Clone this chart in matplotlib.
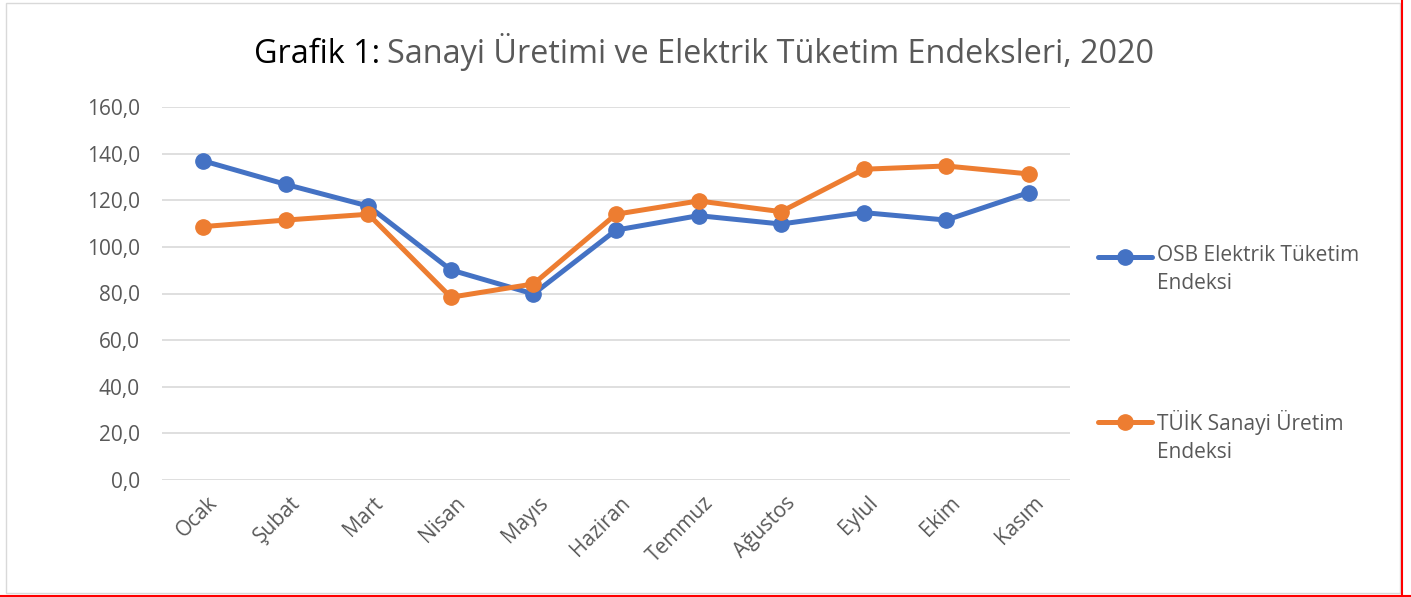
import matplotlib
matplotlib.use("Agg")
import matplotlib.pyplot as plt
import matplotlib.transforms as mtransforms
from matplotlib.patches import Rectangle
from matplotlib.lines import Line2D

plt.rcParams['font.family'] = ['Open Sans', 'DejaVu Sans']

aylar = ['Ocak', 'Şubat', 'Mart', 'Nisan', 'Mayıs', 'Haziran', 'Temmuz',
         'Ağustos', 'Eylul', 'Ekim', 'Kasım']
osb = [136.9, 126.8, 117.5, 90.1, 79.8, 107.2, 113.4, 109.8, 114.7, 111.5, 123.3]
tuik = [108.7, 111.5, 114.0, 78.4, 84.1, 114.0, 119.7, 115.1, 133.3, 134.7, 131.3]
seri_adlari = ['OSB Elektrik Tüketim\nEndeksi', 'TÜİK Sanayi Üretim\nEndeksi']
yticks = [0, 20, 40, 60, 80, 100, 120, 140, 160]

blue = '#4472C4'
orange = '#ED7D31'
gray = '#595959'
W, H = 1411, 597

fig = plt.figure(figsize=(W / 100, H / 100), dpi=100)
ax = fig.add_axes([162 / W, 1 - 480 / H, (1070 - 162) / W, (480 - 107) / H])

x = range(len(aylar))
ax.plot(x, osb, color=blue, lw=3.6, marker='o', ms=11)
ax.plot(x, tuik, color=orange, lw=3.6, marker='o', ms=11)

ax.set_xlim(-0.5, len(aylar) - 0.5)
ax.set_ylim(0, 160)
ax.set_yticks(yticks)
ax.set_yticklabels([f'{v:.1f}'.replace('.', ',') for v in yticks])
ax.set_xticks(list(x))
ax.set_xticklabels(aylar, rotation=45, ha='right', rotation_mode='anchor')
ax.tick_params(axis='both', length=0, labelsize=15, labelcolor=gray)
ax.tick_params(axis='y', pad=16)
ax.tick_params(axis='x', pad=9)
shift = mtransforms.ScaledTranslation(4 / 100, 0, fig.dpi_scale_trans)
for lab in ax.get_xticklabels():
    lab.set_transform(lab.get_transform() + shift)
ax.grid(axis='y', color='#D9D9D9', lw=1.2)
ax.set_axisbelow(True)
for s in ax.spines.values():
    s.set_visible(False)

# title: first part black, rest gray, on a common baseline
renderer = fig.canvas.get_renderer()
t1 = fig.text(0, 1 - 63 / H, 'Grafik 1:', fontsize=23.3, color='black', ha='left', va='baseline')
t2 = fig.text(0, 1 - 63 / H, 'Sanayi Üretimi ve Elektrik Tüketim Endeksleri, 2020',
              fontsize=23.3, color=gray, ha='left', va='baseline')
w1 = t1.get_window_extent(renderer).width
w2 = t2.get_window_extent(renderer).width
gap = 7
x0 = (250 + 1158) / 2 - (w1 + gap + w2) / 2
t1.set_x(x0 / W)
t2.set_x((x0 + w1 + gap) / W)

# legend drawn by hand: handle beside first text line
for y, col, name in [(257, blue, seri_adlari[0]), (422, orange, seri_adlari[1])]:
    fig.lines.append(Line2D([1098 / W, 1152 / W], [1 - y / H, 1 - y / H],
                            transform=fig.transFigure, color=col, lw=3.6,
                            solid_capstyle='round'))
    fig.lines.append(Line2D([1125 / W], [1 - y / H], transform=fig.transFigure,
                            color=col, marker='o', ms=11))
    fig.text(1157 / W, 1 - (y - 12) / H, name, fontsize=15, color=gray,
             ha='left', va='top', linespacing=1.45)

# outer chart border and red edges
fig.patches.append(Rectangle((6 / W, 1 - 593 / H), (1400 - 6) / W, (593 - 3) / H,
                             transform=fig.transFigure, fill=False, ec='#D9D9D9', lw=1))
fig.lines.append(Line2D([1402 / W, 1402 / W], [0, 1], transform=fig.transFigure,
                        color='red', lw=1.5))
fig.lines.append(Line2D([0, 1], [1.5 / H, 1.5 / H], transform=fig.transFigure,
                        color='red', lw=1.5))

fig.savefig('out.png', dpi=100, facecolor='white')
